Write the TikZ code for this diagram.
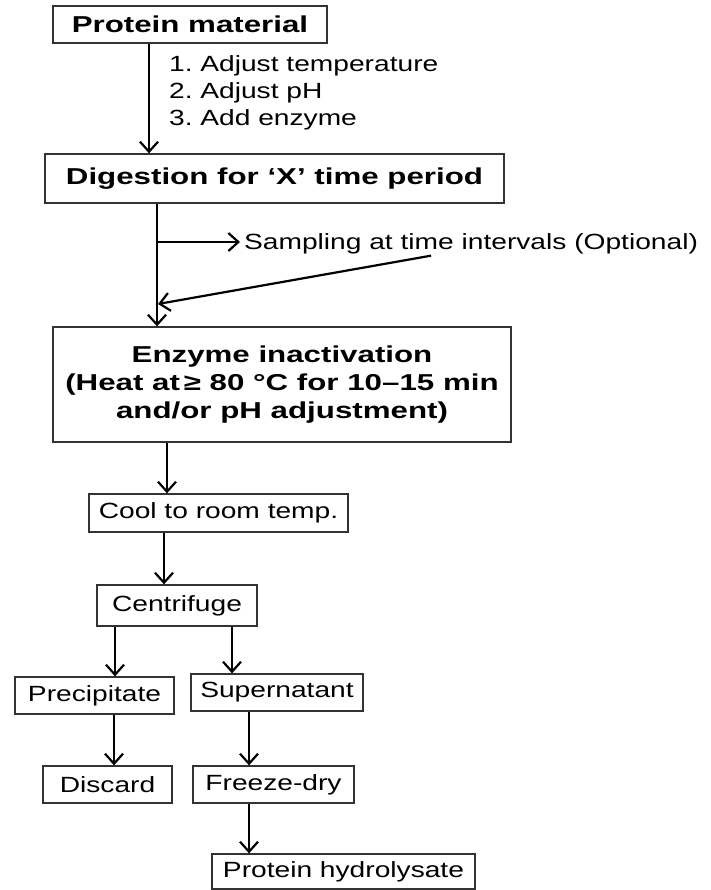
\documentclass[tikz,border=0pt]{standalone}
\usepackage{fontspec}
\setmainfont{Liberation Sans}[FakeStretch=1.28]
\newfontfamily\headfont{Liberation Sans}[FakeStretch=1.36]
\usepackage{tikz}
\usetikzlibrary{arrows.meta}
\frenchspacing

\begin{document}
\begin{tikzpicture}[x=1pt,y=-1pt,->,>={Straight Barb[length=10pt,width=18pt]},line width=2.2pt,
    box/.style={draw=black!80,line width=1.3pt,rectangle,inner sep=0pt,
      font=\fontsize{22}{27}\selectfont},
    headbox/.style={box,font=\headfont\bfseries\fontsize{23}{28}\selectfont},
    plain/.style={inner sep=0pt,font=\fontsize{22}{27}\selectfont}]
    \useasboundingbox (0,0) rectangle (710,890);

        \node[headbox,minimum width=274pt,minimum height=37pt] (prot) at (190,24.5) {Protein material};
        \node[plain,anchor=base west] (steps) at (168,72)
          {\begin{tabular}[t]{@{}l@{}}1. Adjust temperature\\2. Adjust pH\\3. Add enzyme\end{tabular}};
        \node[headbox,minimum width=459pt,minimum height=49pt] (dig) at (274.5,178.5) {Digestion for ‘X’ time period};
        \node[plain,anchor=base west,inner xsep=3pt] (samp) at (240,250) {Sampling at time intervals (Optional)};
        \node[headbox,minimum width=458pt,minimum height=115pt,align=center] (inact) at (282,384.5)
          {Enzyme inactivation\\(Heat at\,≥ 80 °C for 10–15 min\\and/or pH adjustment)};
        \node[box,minimum width=259pt,minimum height=38pt] (cool) at (218.5,513) {Cool to room temp.};
        \node[box,minimum width=160pt,minimum height=41pt] (cent) at (177,605.5) {Centrifuge};
        \node[box,minimum width=159pt,minimum height=37pt] (prec) at (94.5,695.5) {Precipitate};
        \node[box,minimum width=172pt,minimum height=37pt] (sup) at (277,692.5) {Supernatant};
        \node[box,minimum width=129pt,minimum height=37pt] (disc) at (107.5,784.5) {Discard};
        \node[box,minimum width=161pt,minimum height=37pt] (fd) at (273.5,784.5) {Freeze-dry};
        \node[box,minimum width=263pt,minimum height=35pt] (hyd) at (343.5,871.5) {Protein hydrolysate};

        \coordinate (branch) at (157,242);
        \coordinate (join) at (158,304);

        \draw ([xshift=-41pt]prot.south) -- ([xshift=-41pt]prot.south |- dig.north);
        \draw ([xshift=-117.5pt]dig.south) -- ([xshift=-117.5pt]dig.south |- inact.north);
        \draw (branch) -- (branch -| samp.west);
        \draw ([xshift=-40pt]samp.south) -- (join);
        \draw ([xshift=-115pt]inact.south) -- ([xshift=-115pt]inact.south |- cool.north);
        \draw ([xshift=-54.5pt]cool.south) -- ([xshift=-54.5pt]cool.south |- cent.north);
        \draw ([xshift=-62pt]cent.south) -- ([xshift=-62pt]cent.south |- prec.north);
        \draw ([xshift=55pt]cent.south) -- ([xshift=55pt]cent.south |- sup.north);
        \draw ([xshift=19.5pt]prec.south) -- ([xshift=19.5pt]prec.south |- disc.north);
        \draw ([xshift=-28pt]sup.south) -- ([xshift=-28pt]sup.south |- fd.north);
        \draw ([xshift=-24.5pt]fd.south) -- ([xshift=-24.5pt]fd.south |- hyd.north);

\end{tikzpicture}
\end{document}
